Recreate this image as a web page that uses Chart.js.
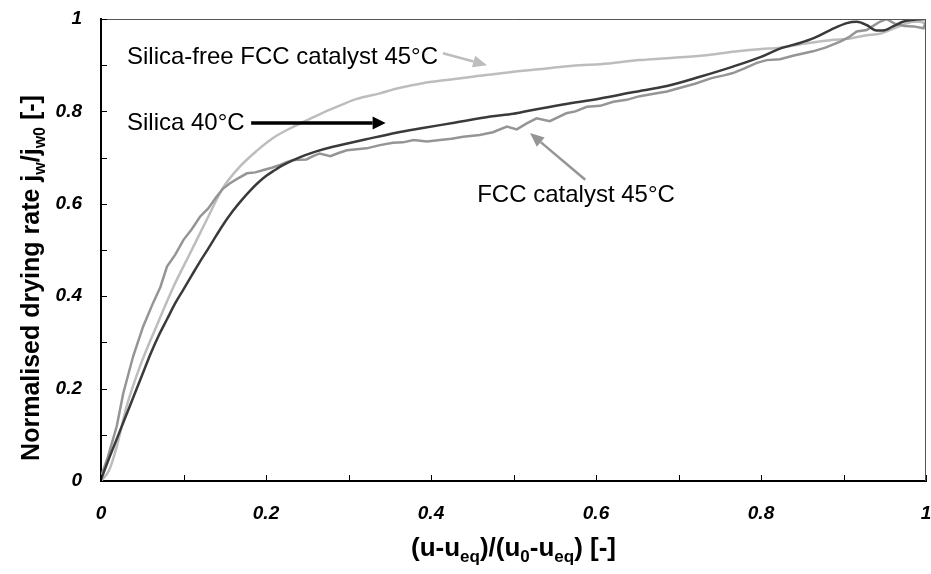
<!DOCTYPE html>
<html>
<head>
<meta charset="utf-8">
<script src="https://cdn.jsdelivr.net/npm/chart.js@4"></script>
<style>
  html, body { margin: 0; padding: 0; background: #fff; }
  #wrap { width: 931px; height: 574px; }
</style>
</head>
<body>
<div id="wrap"><canvas id="c" width="931" height="574"></canvas></div>
<script>
// ---- Data ----
const silicaX = [0, 0.01, 0.02, 0.03, 0.04, 0.05, 0.06, 0.07, 0.08, 0.09, 0.1, 0.11, 0.12, 0.13, 0.14, 0.15, 0.16, 0.17, 0.18, 0.19, 0.2, 0.21, 0.22, 0.24, 0.26, 0.28, 0.3, 0.32, 0.358, 0.39, 0.43, 0.472, 0.5, 0.52, 0.56, 0.605, 0.646, 0.686, 0.726, 0.766, 0.80, 0.823, 0.847, 0.863, 0.884, 0.904, 0.916, 0.928, 0.94, 0.948, 0.96, 0.972, 0.984, 1.0];
const silicaY = [0.003, 0.05, 0.095, 0.14, 0.185, 0.23, 0.275, 0.315, 0.35, 0.385, 0.415, 0.445, 0.475, 0.503, 0.532, 0.56, 0.585, 0.607, 0.627, 0.645, 0.66, 0.672, 0.683, 0.7, 0.713, 0.723, 0.731, 0.739, 0.754, 0.764, 0.776, 0.789, 0.795, 0.802, 0.815, 0.828, 0.842, 0.855, 0.875, 0.897, 0.918, 0.936, 0.948, 0.958, 0.976, 0.991, 0.994, 0.987, 0.975, 0.975, 0.984, 0.994, 0.998, 1.0];

const fccX = [0, 0.008, 0.019, 0.027, 0.039, 0.051, 0.063, 0.072, 0.08, 0.09, 0.1, 0.11, 0.12, 0.13, 0.14, 0.148, 0.156, 0.166, 0.177, 0.187, 0.197, 0.207, 0.217, 0.225, 0.233, 0.249, 0.257, 0.265, 0.278, 0.288, 0.298, 0.31, 0.322, 0.338, 0.354, 0.366, 0.379, 0.395, 0.411, 0.425, 0.439, 0.459, 0.475, 0.492, 0.504, 0.516, 0.528, 0.544, 0.564, 0.575, 0.589, 0.605, 0.621, 0.637, 0.653, 0.67, 0.686, 0.70, 0.72, 0.74, 0.755, 0.766, 0.78, 0.795, 0.807, 0.823, 0.84, 0.863, 0.878, 0.896, 0.906, 0.916, 0.928, 0.936, 0.944, 0.952, 0.962, 0.974, 0.985, 0.997, 1.0];
const fccY = [0.01, 0.05, 0.118, 0.19, 0.27, 0.334, 0.385, 0.42, 0.464, 0.49, 0.522, 0.545, 0.572, 0.59, 0.615, 0.633, 0.644, 0.655, 0.666, 0.668, 0.673, 0.678, 0.684, 0.69, 0.695, 0.696, 0.703, 0.709, 0.703, 0.71, 0.716, 0.718, 0.72, 0.727, 0.732, 0.733, 0.738, 0.735, 0.738, 0.741, 0.745, 0.749, 0.755, 0.767, 0.761, 0.774, 0.785, 0.779, 0.796, 0.8, 0.81, 0.812, 0.821, 0.825, 0.833, 0.838, 0.843, 0.85, 0.86, 0.872, 0.878, 0.883, 0.893, 0.905, 0.911, 0.913, 0.921, 0.93, 0.938, 0.951, 0.96, 0.973, 0.976, 0.985, 0.994, 1.0, 0.99, 0.985, 0.984, 0.98, 0.995];

const freeX = [0, 0.01, 0.019, 0.031, 0.047, 0.067, 0.088, 0.108, 0.128, 0.148, 0.168, 0.189, 0.209, 0.229, 0.25, 0.27, 0.29, 0.31, 0.338, 0.36, 0.39, 0.419, 0.45, 0.5, 0.54, 0.58, 0.605, 0.653, 0.686, 0.73, 0.766, 0.8, 0.823, 0.847, 0.888, 0.904, 0.928, 0.944, 0.956, 0.976, 0.985, 0.992, 1.0];
const freeY = [0, 0.024, 0.074, 0.161, 0.247, 0.334, 0.421, 0.493, 0.565, 0.635, 0.68, 0.715, 0.743, 0.763, 0.781, 0.798, 0.813, 0.827, 0.839, 0.85, 0.861, 0.868, 0.875, 0.886, 0.893, 0.9, 0.902, 0.911, 0.915, 0.921, 0.929, 0.935, 0.938, 0.945, 0.955, 0.957, 0.965, 0.968, 0.976, 0.99, 0.994, 0.994, 0.99];

const tickValues = [0, 0.1, 0.2, 0.3, 0.4, 0.5, 0.6, 0.7, 0.8, 0.9, 1];
const tickLabels = ['0', '', '0.2', '', '0.4', '', '0.6', '', '0.8', '', '1'];

const seriesNames = ['Silica 40°C', 'FCC catalyst 45°C', 'Silica-free FCC catalyst 45°C'];
// annotation anchor points in data units: [textX, textY, arrowFromX, arrowFromY, arrowToX, arrowToY]
const annFree = [0.0315, 0.918, 0.4145, 0.926, 0.468, 0.900];
const annSilica = [0.0315, 0.775, 0.182, 0.775, 0.345, 0.775];
const annFcc = [0.456, 0.619, 0.587, 0.652, 0.52, 0.753];

const xTitleParts = [['(u-u', 0], ['eq', 1], [')/(u', 0], ['0', 1], ['-u', 0], ['eq', 1], [') [-]', 0]];
const yTitleParts = [['Normalised drying rate j', 0], ['w', 1], ['/j', 0], ['w0', 1], [' [-]', 0]];

function toXY(xs, ys) { return xs.map((x, i) => ({ x: x, y: ys[i] })); }

const FONT = '"Liberation Sans", Arial, sans-serif';

function drawRich(ctx, parts, cx, cy, size) {
  const subSize = Math.round(size * 0.65);
  let total = 0;
  parts.forEach(p => {
    ctx.font = 'bold ' + (p[1] ? subSize : size) + 'px ' + FONT;
    total += ctx.measureText(p[0]).width;
  });
  let x = cx - total / 2;
  ctx.textAlign = 'left';
  ctx.textBaseline = 'alphabetic';
  parts.forEach(p => {
    ctx.font = 'bold ' + (p[1] ? subSize : size) + 'px ' + FONT;
    ctx.fillText(p[0], x, cy + (p[1] ? size * 0.22 : 0));
    x += ctx.measureText(p[0]).width;
  });
}

function arrow(ctx, x1, y1, x2, y2, color, lw, hl, hw) {
  const a = Math.atan2(y2 - y1, x2 - x1);
  const bx = x2 - hl * Math.cos(a), by = y2 - hl * Math.sin(a);
  ctx.save();
  ctx.strokeStyle = color; ctx.fillStyle = color; ctx.lineWidth = lw;
  ctx.beginPath(); ctx.moveTo(x1, y1); ctx.lineTo(bx, by); ctx.stroke();
  ctx.beginPath();
  ctx.moveTo(x2, y2);
  ctx.lineTo(bx + hw / 2 * Math.sin(a), by - hw / 2 * Math.cos(a));
  ctx.lineTo(bx - hw / 2 * Math.sin(a), by + hw / 2 * Math.cos(a));
  ctx.closePath(); ctx.fill();
  ctx.restore();
}

const decor = {
  id: 'decor',
  afterDraw(chart) {
    const ctx = chart.ctx, xs = chart.scales.x, ys = chart.scales.y, ca = chart.chartArea;
    ctx.save();
    // frame top/right
    ctx.strokeStyle = '#555'; ctx.lineWidth = 1;
    ctx.beginPath();
    ctx.moveTo(ca.left, ca.top + 0.5); ctx.lineTo(ca.right - 0.5, ca.top + 0.5); ctx.lineTo(ca.right - 0.5, ca.bottom);
    ctx.stroke();
    // inward tick marks
    ctx.strokeStyle = '#000'; ctx.lineWidth = 1;
    tickValues.forEach(v => {
      const px = Math.round(xs.getPixelForValue(v)) + 0.5;
      const py = Math.round(ys.getPixelForValue(v)) + 0.5;
      ctx.beginPath(); ctx.moveTo(px, ca.bottom); ctx.lineTo(px, ca.bottom - 6); ctx.stroke();
      ctx.beginPath(); ctx.moveTo(ca.left, py); ctx.lineTo(ca.left + 6, py); ctx.stroke();
    });
    // axis titles
    ctx.fillStyle = '#000';
    drawRich(ctx, xTitleParts, (ca.left + ca.right) / 2, 556, 26);
    ctx.save();
    ctx.translate(39, (ca.top + ca.bottom) / 2 + 28);
    ctx.rotate(-Math.PI / 2);
    drawRich(ctx, yTitleParts, 0, 0, 25);
    ctx.restore();
    // annotations
    ctx.font = '24px ' + FONT;
    ctx.textAlign = 'left'; ctx.textBaseline = 'middle'; ctx.fillStyle = '#000';
    const P = (a, i) => [xs.getPixelForValue(a[i]), ys.getPixelForValue(a[i + 1])];
    let t = P(annFree, 0); ctx.fillText(seriesNames[2], t[0], t[1]);
    t = P(annSilica, 0); ctx.fillText(seriesNames[0], t[0], t[1]);
    t = P(annFcc, 0); ctx.fillText(seriesNames[1], t[0], t[1]);
    let f = P(annFree, 2), e = P(annFree, 4);
    arrow(ctx, f[0], f[1], e[0], e[1], '#bdbdbd', 2.5, 14, 12);
    f = P(annSilica, 2); e = P(annSilica, 4);
    arrow(ctx, f[0], f[1], e[0], e[1], '#000', 3.5, 13, 13);
    f = P(annFcc, 2); e = P(annFcc, 4);
    arrow(ctx, f[0], f[1], e[0], e[1], '#959595', 2.5, 14, 12);
    ctx.restore();
  }
};

new Chart(document.getElementById('c'), {
  type: 'scatter',
  data: {
    datasets: [
      { label: seriesNames[0], data: toXY(silicaX, silicaY), showLine: true, borderColor: '#3a3a3a', borderWidth: 2.5, pointRadius: 0, cubicInterpolationMode: 'monotone' },
      { label: seriesNames[1], data: toXY(fccX, fccY), showLine: true, borderColor: '#959595', borderWidth: 2.5, pointRadius: 0, tension: 0 },
      { label: seriesNames[2], data: toXY(freeX, freeY), showLine: true, borderColor: '#bdbdbd', borderWidth: 2.5, pointRadius: 0, cubicInterpolationMode: 'monotone' }
    ]
  },
  options: {
    responsive: false,
    devicePixelRatio: 1,
    animation: false,
    layout: { padding: { left: 0, top: 19, right: 5, bottom: 0 } },
    plugins: { legend: { display: false }, tooltip: { enabled: false }, title: { display: false } },
    scales: {
      x: {
        type: 'linear', min: 0, max: 1,
        afterFit(s) { s.height = 93; s.paddingLeft = 0; s.paddingRight = 0; },
        afterBuildTicks(s) { s.ticks = tickValues.map(v => ({ value: v })); },
        grid: { display: false, drawTicks: false },
        border: { display: true, color: '#000', width: 2 },
        ticks: {
          padding: 21, color: '#000', maxRotation: 0, autoSkip: false,
          font: { family: FONT, size: 19, style: 'italic', weight: 'bold' },
          callback: (v) => tickLabels[tickValues.findIndex(t => Math.abs(t - v) < 1e-6)]
        }
      },
      y: {
        type: 'linear', min: 0, max: 1,
        afterFit(s) { s.width = 101; s.paddingTop = 0; s.paddingBottom = 0; },
        afterBuildTicks(s) { s.ticks = tickValues.map(v => ({ value: v })); },
        grid: { display: false, drawTicks: false },
        border: { display: true, color: '#000', width: 2 },
        ticks: {
          padding: 19, color: '#000', autoSkip: false,
          font: { family: FONT, size: 19, style: 'italic', weight: 'bold' },
          callback: (v) => tickLabels[tickValues.findIndex(t => Math.abs(t - v) < 1e-6)]
        }
      }
    }
  },
  plugins: [decor]
});
</script>
</body>
</html>
